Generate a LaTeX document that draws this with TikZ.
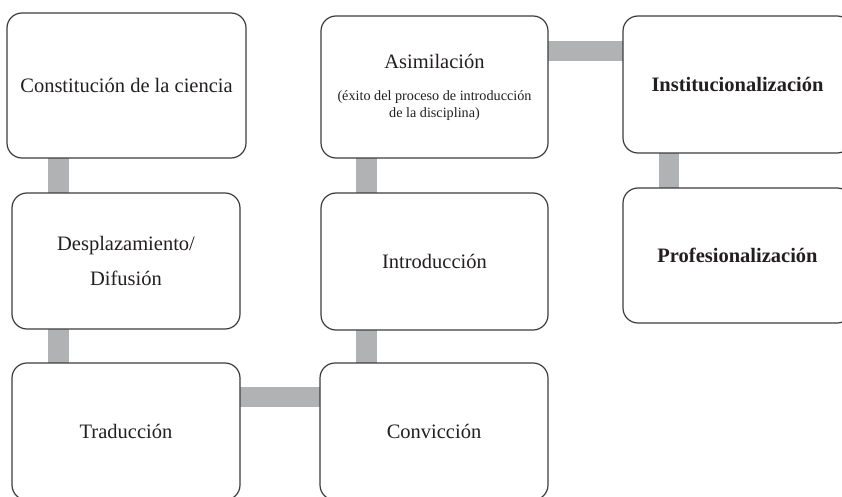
\documentclass[tikz,border=0pt]{standalone}
\usepackage{fontspec}
\setmainfont{Liberation Serif}
\usetikzlibrary{backgrounds,calc}
\definecolor{connc}{HTML}{B1B2B4}
\definecolor{edgec}{HTML}{3C3C3C}
\definecolor{inkc}{HTML}{231F20}
\begin{document}
\begin{tikzpicture}[x=1pt,y=-1pt,
  box/.style={draw=edgec, line width=1.2pt, rounded corners=15pt, fill=white,
    inner sep=0pt, outer sep=0pt, text=inkc, font=\fontsize{20.5}{24}\selectfont},
  boldbox/.style={box, font=\fontsize{20.5}{24}\selectfont\bfseries},
  link/.style={draw=connc, line width=20.5pt}]
\useasboundingbox (0,0) rectangle (842,497);
\clip (0,0) rectangle (842,497);

\node[box, minimum width=239pt, minimum height=145pt] (c1) at (126.5,85.5) {Constitución de la ciencia};
\node[box, minimum width=228pt, minimum height=136pt] (c2) at (126,261)
  {\parbox{220pt}{\centering\fontsize{20.5}{35}\selectfont Desplazamiento/\\Difusión}};
\node[box, minimum width=228pt, minimum height=137pt] (c3) at (126,431.5) {Traducción};
\node[box, minimum width=228pt, minimum height=137pt] (c4) at (434,431.5) {Convicción};
\node[box, minimum width=227pt, minimum height=137pt] (c5) at (434.5,261.5) {Introducción};
\node[box, minimum width=227pt, minimum height=142pt] (c6) at (434.5,87)
  {\parbox{220pt}{\centering\fontsize{20.5}{24}\selectfont Asimilación\par\vspace{15pt}
   \fontsize{14.2}{17}\selectfont (éxito del proceso de introducción\\de la disciplina)}};
\node[boldbox, minimum width=229pt, minimum height=137pt] (c7) at (737.5,84.5) {Institucionalización};
\node[boldbox, minimum width=229pt, minimum height=135pt] (c8) at (737.5,255.5) {Profesionalización};

\begin{scope}[on background layer]
\fill[white] (0,0) rectangle (842,497);
\draw[link] ($(c1.south west)+(51.5,0)$) coordinate (a1) -- (a1 |- c2.north);
\draw[link] ($(c2.south west)+(46.5,0)$) coordinate (a2) -- (a2 |- c3.north);
\draw[link] ($(c3.north east)+(0,34)$) coordinate (a3) -- (a3 -| c4.west);
\draw[link] ($(c5.south west)+(45.5,0)$) coordinate (a4) -- (a4 |- c4.north);
\draw[link] ($(c6.south west)+(45.5,0)$) coordinate (a5) -- (a5 |- c5.north);
\draw[link] ($(c6.north east)+(0,35)$) coordinate (a6) -- (a6 -| c7.west);
\draw[link] ($(c7.south west)+(46,0)$) coordinate (a7) -- (a7 |- c8.north);
\end{scope}
\end{tikzpicture}
\end{document}
